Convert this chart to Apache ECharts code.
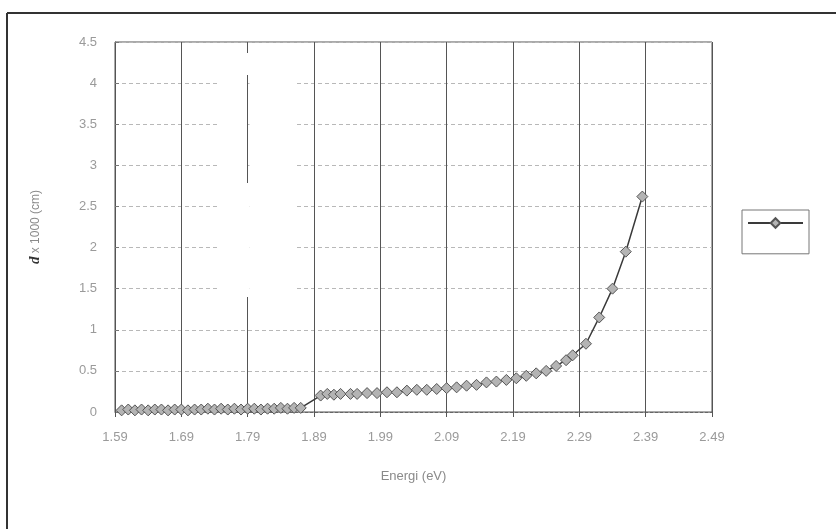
<!DOCTYPE html>
<html>
<head>
<meta charset="utf-8">
<script src="https://cdn.jsdelivr.net/npm/echarts@6/dist/echarts.min.js"></script>
<style>
  html, body { margin: 0; padding: 0; background: #fff; }
  #chart { width: 836px; height: 529px; }
</style>
</head>
<body>
<div id="chart"></div>
<script>
// Photon energy (eV) and absorption depth d x 1000 (cm)
const energy = [
  1.60, 1.61, 1.62, 1.63, 1.64, 1.65, 1.66, 1.67, 1.68, 1.69,
  1.70, 1.71, 1.72, 1.73, 1.74, 1.75, 1.76, 1.77, 1.78, 1.79,
  1.80, 1.81, 1.82, 1.83, 1.84, 1.85, 1.86, 1.87,
  1.90, 1.91, 1.92, 1.93, 1.945, 1.955, 1.97, 1.985, 2.00, 2.015,
  2.03, 2.045, 2.06, 2.075, 2.09, 2.105, 2.12, 2.135, 2.15, 2.165,
  2.18, 2.195, 2.21, 2.225, 2.24, 2.255, 2.27, 2.28, 2.30, 2.32,
  2.34, 2.36, 2.385
];
const depth = [
  0.02, 0.03, 0.02, 0.03, 0.02, 0.03, 0.03, 0.02, 0.03, 0.03,
  0.02, 0.03, 0.03, 0.04, 0.03, 0.04, 0.03, 0.04, 0.03, 0.04,
  0.04, 0.03, 0.04, 0.04, 0.05, 0.04, 0.05, 0.05,
  0.20, 0.22, 0.21, 0.22, 0.22, 0.22, 0.23, 0.23, 0.24, 0.24,
  0.26, 0.27, 0.27, 0.28, 0.29, 0.30, 0.32, 0.33, 0.36, 0.37,
  0.39, 0.41, 0.44, 0.47, 0.50, 0.56, 0.63, 0.69, 0.83, 1.15,
  1.50, 1.95, 2.62
];
// Energy axis: first tick and step
const energyStart = 1.59;
const energyStep = 0.1;
const energyTicks = ['1.59', '1.69', '1.79', '1.89', '1.99', '2.09', '2.19', '2.29', '2.39', '2.49'];
const depthTicks = [0, 0.5, 1, 1.5, 2, 2.5, 3, 3.5, 4, 4.5];

const points = energy.map((e, i) => [+(e - energyStart).toFixed(4), depth[i]]);

const chart = echarts.init(document.getElementById('chart'), null, { renderer: 'canvas' });
const labelFont = "'Liberation Sans Narrow', 'Liberation Sans', sans-serif";

// white patches over part of the grid
const gx0 = 218, gx1 = 297, gy0 = 53, gy1 = 297, lineX = 248;

chart.setOption({
  backgroundColor: '#ffffff',
  animation: false,
  grid: {
    left: 115, right: 124, top: 42, bottom: 117,
    show: true, borderColor: '#555', borderWidth: 1, backgroundColor: 'transparent'
  },
  legend: {
    left: 742, top: 210,
    padding: [7, 5, 25, 5],
    itemWidth: 55, itemHeight: 12, itemGap: 0,
    borderColor: '#777', borderWidth: 1,
    formatter: () => '',
    textStyle: { fontSize: 1 },
    data: ['d']
  },
  xAxis: {
    type: 'value',
    min: 0, max: (energyTicks.length - 1) * energyStep, interval: energyStep,
    name: 'Energi (eV)', nameLocation: 'middle', nameGap: 58,
    nameTextStyle: { color: '#8a8a8a', fontSize: 13, fontFamily: labelFont },
    axisLine: { show: true, lineStyle: { color: '#666', type: [3, 2] } },
    axisTick: { show: true, inside: false, length: 5, lineStyle: { color: '#555' } },
    axisLabel: {
      color: '#9a9a9a', fontSize: 13, fontFamily: labelFont, margin: 19,
      formatter: (v) => energyTicks[Math.round(v / energyStep)] || ''
    },
    splitLine: { show: true, lineStyle: { color: '#555', width: 1 } }
  },
  yAxis: {
    type: 'value',
    min: 0, max: depthTicks[depthTicks.length - 1], interval: 0.5,
    name: '{d|d} {t|x 1000 (cm)}', nameLocation: 'middle', nameGap: 72, nameRotate: 90,
    nameTextStyle: {
      rich: {
        d: { color: '#333', fontSize: 15, fontStyle: 'italic', fontWeight: 'bold', fontFamily: 'Liberation Serif, serif' },
        t: { color: '#8a8a8a', fontSize: 12, fontFamily: labelFont }
      }
    },
    axisLine: { show: true, lineStyle: { color: '#555' } },
    axisTick: { show: true, inside: true, length: 4, lineStyle: { color: '#777' } },
    axisLabel: { color: '#9a9a9a', fontSize: 13, fontFamily: labelFont, margin: 18 },
    splitLine: { show: true, lineStyle: { color: '#b8b8b8', type: [4, 3], width: 1 } }
  },
  series: [{
    name: 'd',
    type: 'line',
    data: points,
    symbol: 'diamond',
    symbolSize: 11,
    showSymbol: true,
    itemStyle: { color: '#b4b4b4', borderColor: '#555', borderWidth: 1 },
    lineStyle: { color: '#3a3a3a', width: 1.5 },
    z: 5
  }],
  graphic: [
    // outer frame
    { type: 'line', shape: { x1: 7, y1: 13, x2: 836, y2: 13 }, style: { stroke: '#333', lineWidth: 2 }, silent: true },
    { type: 'line', shape: { x1: 7, y1: 13, x2: 7, y2: 529 }, style: { stroke: '#333', lineWidth: 2 }, silent: true },
    // blank panel
    { type: 'rect', shape: { x: gx0, y: gy0, width: lineX - 1.5 - gx0, height: gy1 - gy0 }, style: { fill: '#fff' }, z: 2, silent: true },
    { type: 'rect', shape: { x: lineX + 1.5, y: gy0, width: gx1 - lineX - 1.5, height: gy1 - gy0 }, style: { fill: '#fff' }, z: 2, silent: true },
    { type: 'rect', shape: { x: lineX - 1.5, y: gy0, width: 3, height: 22 }, style: { fill: '#fff' }, z: 2, silent: true },
    { type: 'rect', shape: { x: lineX - 1.5, y: 183, width: 3, height: gy1 - 183 }, style: { fill: '#fff' }, z: 2, silent: true }
  ]
});
</script>
</body>
</html>
